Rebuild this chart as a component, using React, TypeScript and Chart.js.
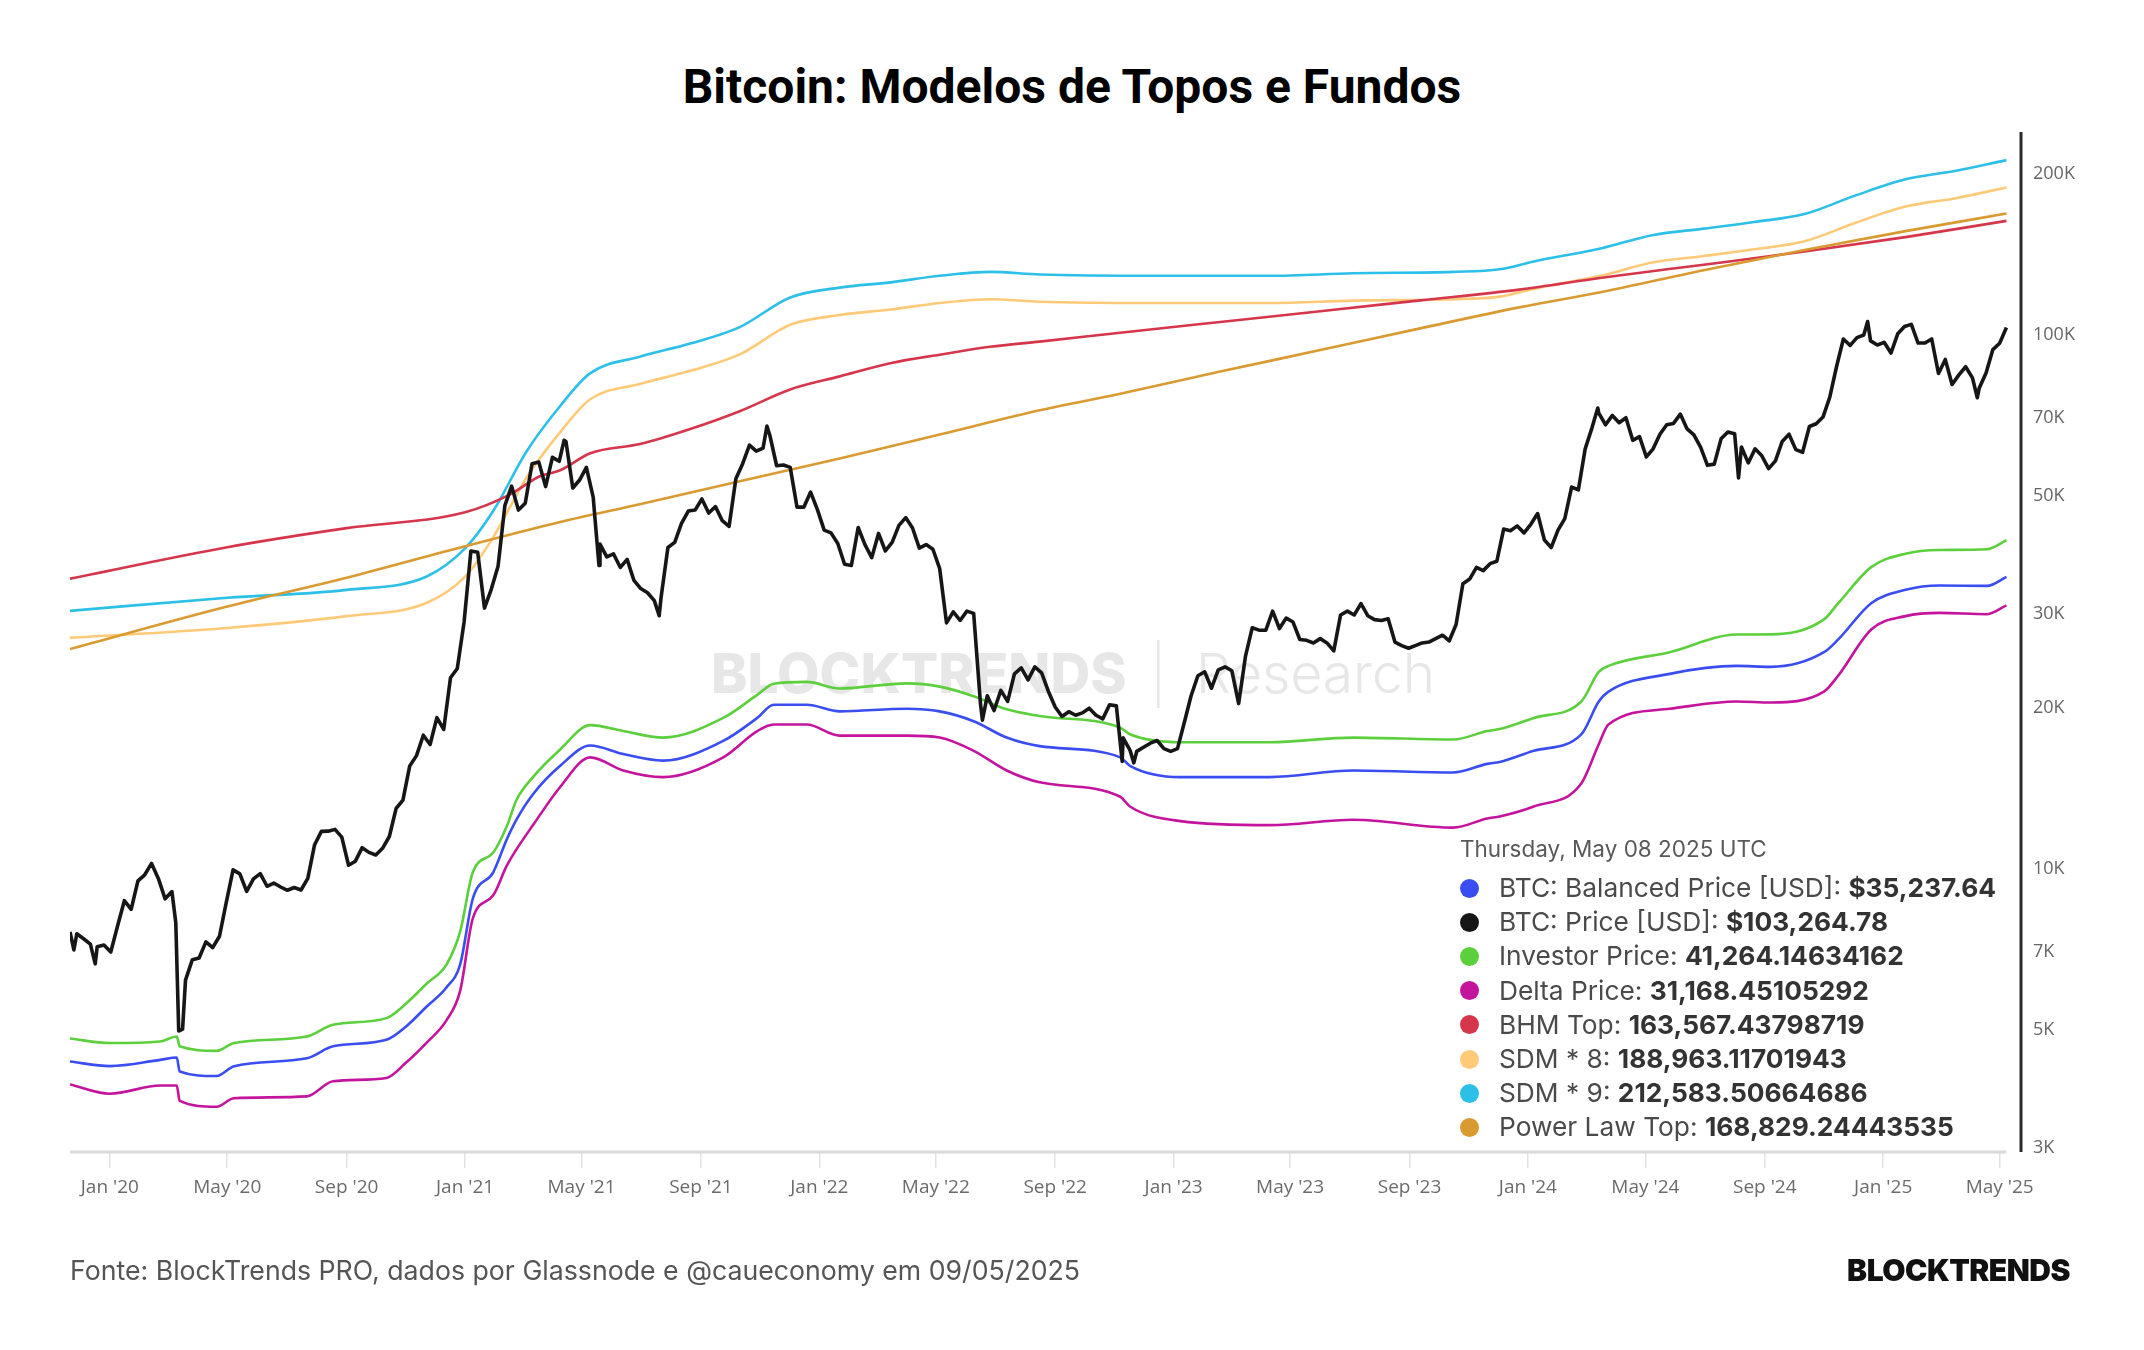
import React, { useEffect, useRef } from "react";
import { Chart, registerables } from "chart.js";

Chart.register(...registerables);

// ---------- axis ranges / ticks ----------
const X_MIN_DATE = "2019-11-21";
const X_MAX_DATE = "2025-05-23";
const LAST_DATE = "2025-05-08";
const Y_MIN = 2950;
const Y_MAX = 240000;

const xTickDates = [
  "2020-01-01", "2020-05-01", "2020-09-01", "2021-01-01", "2021-05-01", "2021-09-01",
  "2022-01-01", "2022-05-01", "2022-09-01", "2023-01-01", "2023-05-01", "2023-09-01",
  "2024-01-01", "2024-05-01", "2024-09-01", "2025-01-01", "2025-05-01",
];
const xTickLabels = [
  "Jan '20", "May '20", "Sep '20", "Jan '21", "May '21", "Sep '21",
  "Jan '22", "May '22", "Sep '22", "Jan '23", "May '23", "Sep '23",
  "Jan '24", "May '24", "Sep '24", "Jan '25", "May '25",
];
const yTickValues = [3000, 5000, 7000, 10000, 20000, 30000, 50000, 70000, 100000, 200000];
const yTickLabels = ["3K", "5K", "7K", "10K", "20K", "30K", "50K", "70K", "100K", "200K"];

// ---------- BTC price ----------
const btcDates = [
  "2019-11-21","2019-11-25","2019-11-28","2019-12-05","2019-12-12","2019-12-17","2019-12-19","2019-12-26",
  "2020-01-02","2020-01-09","2020-01-16","2020-01-23","2020-01-30","2020-02-06","2020-02-13","2020-02-20","2020-02-27",
  "2020-03-05","2020-03-09","2020-03-12","2020-03-16","2020-03-19","2020-03-26","2020-04-02","2020-04-09","2020-04-16",
  "2020-04-23","2020-04-30","2020-05-07","2020-05-14","2020-05-21","2020-05-28","2020-06-04","2020-06-11","2020-06-18",
  "2020-06-25","2020-07-02","2020-07-09","2020-07-16","2020-07-23","2020-07-30","2020-08-06","2020-08-13","2020-08-20",
  "2020-08-27","2020-09-03","2020-09-10","2020-09-17","2020-09-24","2020-10-01","2020-10-08","2020-10-15","2020-10-22",
  "2020-10-29","2020-11-05","2020-11-12","2020-11-19","2020-11-26","2020-12-03","2020-12-10","2020-12-17","2020-12-24",
  "2020-12-31","2021-01-07","2021-01-14","2021-01-21","2021-01-28","2021-02-04","2021-02-11","2021-02-18","2021-02-25",
  "2021-03-04","2021-03-11","2021-03-18","2021-03-25","2021-04-01","2021-04-08","2021-04-13","2021-04-15","2021-04-22",
  "2021-04-29","2021-05-06","2021-05-13","2021-05-19","2021-05-20","2021-05-27","2021-06-03","2021-06-10","2021-06-17",
  "2021-06-24","2021-07-01","2021-07-08","2021-07-15","2021-07-20","2021-07-22","2021-07-29","2021-08-05","2021-08-12",
  "2021-08-19","2021-08-26","2021-09-02","2021-09-09","2021-09-16","2021-09-23","2021-09-30","2021-10-07","2021-10-14",
  "2021-10-21","2021-10-28","2021-11-04","2021-11-08","2021-11-11","2021-11-18","2021-11-25","2021-12-02","2021-12-09",
  "2021-12-16","2021-12-23","2021-12-30","2022-01-06","2022-01-13","2022-01-20","2022-01-27","2022-02-03","2022-02-10",
  "2022-02-17","2022-02-24","2022-03-03","2022-03-10","2022-03-17","2022-03-24","2022-03-31","2022-04-07","2022-04-14",
  "2022-04-21","2022-04-28","2022-05-05","2022-05-12","2022-05-19","2022-05-26","2022-06-02","2022-06-09","2022-06-16",
  "2022-06-18","2022-06-23","2022-06-30","2022-07-07","2022-07-14","2022-07-21","2022-07-28","2022-08-04","2022-08-11",
  "2022-08-18","2022-08-25","2022-09-01","2022-09-08","2022-09-15","2022-09-22","2022-09-29","2022-10-06","2022-10-13",
  "2022-10-20","2022-10-27","2022-11-03","2022-11-09","2022-11-10","2022-11-17","2022-11-21","2022-11-24","2022-12-01",
  "2022-12-08","2022-12-15","2022-12-22","2022-12-29","2023-01-05","2023-01-12","2023-01-19","2023-01-26","2023-02-02",
  "2023-02-09","2023-02-16","2023-02-23","2023-03-02","2023-03-09","2023-03-16","2023-03-23","2023-03-30","2023-04-06",
  "2023-04-13","2023-04-20","2023-04-27","2023-05-04","2023-05-11","2023-05-18","2023-05-25","2023-06-01","2023-06-08",
  "2023-06-15","2023-06-22","2023-06-29","2023-07-06","2023-07-13","2023-07-20","2023-07-27","2023-08-03","2023-08-10",
  "2023-08-17","2023-08-24","2023-08-31","2023-09-07","2023-09-14","2023-09-21","2023-09-28","2023-10-05","2023-10-12",
  "2023-10-19","2023-10-26","2023-11-02","2023-11-09","2023-11-16","2023-11-23","2023-11-30","2023-12-07","2023-12-14",
  "2023-12-21","2023-12-28","2024-01-04","2024-01-11","2024-01-18","2024-01-25","2024-02-01","2024-02-08","2024-02-15",
  "2024-02-22","2024-02-29","2024-03-07","2024-03-13","2024-03-14","2024-03-21","2024-03-28","2024-04-04","2024-04-11",
  "2024-04-18","2024-04-25","2024-05-02","2024-05-09","2024-05-16","2024-05-23","2024-05-30","2024-06-06","2024-06-13",
  "2024-06-20","2024-06-27","2024-07-04","2024-07-11","2024-07-18","2024-07-25","2024-08-01","2024-08-05","2024-08-08",
  "2024-08-15","2024-08-22","2024-08-29","2024-09-05","2024-09-12","2024-09-19","2024-09-26","2024-10-03","2024-10-10",
  "2024-10-17","2024-10-24","2024-10-31","2024-11-07","2024-11-14","2024-11-21","2024-11-28","2024-12-05","2024-12-12",
  "2024-12-16","2024-12-19","2024-12-26","2025-01-02","2025-01-09","2025-01-16","2025-01-23","2025-01-30","2025-02-06",
  "2025-02-13","2025-02-20","2025-02-27","2025-03-06","2025-03-13","2025-03-20","2025-03-27","2025-04-03","2025-04-08",
  "2025-04-10","2025-04-17","2025-04-24","2025-05-01","2025-05-08",
];
const btcPrice = [
  7620,7050,7560,7400,7230,6640,7150,7200,
  6990,7820,8720,8400,9500,9750,10240,9600,8790,
  9070,7930,4970,5010,6190,6760,6810,7300,7120,
  7480,8660,9960,9790,9080,9580,9800,9280,9410,
  9250,9120,9230,9130,9600,11100,11760,11770,11860,
  11470,10160,10340,10960,10740,10620,10930,11500,12980,
  13460,15590,16300,17800,17100,19200,18250,22800,23740,
  29000,39400,39200,30800,33400,36900,47900,52100,47000,
  48400,57400,57800,52000,59000,58000,63500,63100,51700,
  53500,56500,49700,37000,40600,38400,38900,36700,38000,
  34700,33500,32900,31800,29800,32300,40000,40900,44400,
  46800,47000,49300,46400,47700,44900,43800,53800,57400,
  62200,60600,61400,67500,64900,56900,57100,56500,47600,
  47600,50800,47100,43100,42600,40700,37200,37000,43600,
  40500,38300,42500,39400,40900,44000,45500,43500,39900,
  40500,39700,36500,28900,30300,29200,30400,30100,20400,
  19000,21100,19800,21600,20600,23200,23800,22600,23900,
  23300,21500,20100,19300,19700,19400,19600,20000,19400,
  19100,20300,20200,15900,17600,16700,15800,16600,16900,
  17200,17400,16800,16600,16800,18800,21100,23000,23400,
  21800,23600,23900,23500,20400,25000,28300,28000,28000,
  30400,28200,29500,29000,26900,26800,26500,27000,26500,
  25600,29900,30400,29900,31400,29800,29300,29200,29400,
  26600,26200,25900,26200,26500,26600,27000,27400,26750,
  28700,34200,34900,36700,36200,37300,37700,43300,43000,
  43900,42600,44200,46300,41300,40000,43100,45300,51900,
  51300,61200,67000,73000,71400,67900,70700,68500,70000,
  63500,64500,59100,61200,65200,67900,68300,71100,66700,
  65000,61600,57000,57300,63900,65800,65300,54000,61700,
  57600,61200,59400,56200,58100,63200,65200,61000,60300,
  67400,68200,70200,76500,87300,98300,95600,98900,100000,
  106000,97500,95800,96900,92500,100500,103700,104700,96600,
  96600,98300,84700,90000,80800,84200,87200,83100,76300,
  79600,84900,93900,96500,103265,
];

// ---------- Investor Price / Balanced Price / Delta Price ----------
const lowDates = [
  "2019-11-21","2020-01-01","2020-02-22","2020-03-10","2020-03-13","2020-04-20","2020-05-08","2020-07-22",
  "2020-08-18","2020-10-12","2020-11-01","2020-11-22","2020-12-13","2020-12-27","2021-01-09","2021-01-30",
  "2021-02-13","2021-02-23","2021-03-12","2021-04-09","2021-05-10","2021-06-13","2021-07-24","2021-09-24",
  "2021-10-29","2021-11-15","2021-12-19","2022-01-22","2022-04-01","2022-05-05","2022-06-09","2022-07-13",
  "2022-08-16","2022-11-07","2022-11-17","2023-01-08","2023-04-10","2023-07-05","2023-10-16","2023-11-20",
  "2023-12-03","2024-01-07","2024-02-25","2024-03-14","2024-03-24","2024-05-26","2024-08-03","2024-09-07",
  "2024-11-01","2024-11-16","2024-12-20","2025-01-24","2025-02-28","2025-04-18","2025-05-08",
];
const investorPrice = [
  4813,4719,4750,4854,4653,4563,4719,4854,
  5108,5255,5592,6088,6628,7637,9856,10730,
  12020,13460,14860,16740,18590,18120,17620,19180,
  21180,22220,22400,21780,22260,21950,21060,19900,
  19340,18380,17870,17270,17270,17620,17470,18120,
  18280,19180,20590,23390,24000,25460,27480,27500,
  29330,31490,36790,38940,39560,39700,41264,
];
const balancedPrice = [
  4358,4272,4389,4433,4176,4094,4272,4420,
  4653,4786,5065,5513,6001,6628,8800,9856,
  11360,12370,13800,15600,17030,16410,15950,17370,
  19180,20300,20300,19730,19950,19730,18910,17620,
  16980,16180,15600,14860,14860,15290,15160,15730,
  15860,16640,17870,20590,21480,23190,24000,23900,
  25460,26940,31490,33320,33940,33900,35238,
];
const deltaPrice = [
  3947,3793,3929,3929,3677,3585,3720,3750,
  4003,4060,4334,4719,5209,5917,8082,8925,
  10140,10880,12080,14240,16180,15290,14860,16180,
  18120,18640,18640,17770,17770,17620,16640,15290,
  14530,13650,13090,12290,12080,12360,11950,12430,
  12540,13090,14460,17120,18640,19950,20590,20500,
  21480,23060,28110,29750,30170,30000,31168,
];

// ---------- BHM Top ----------
const bhmDates = [
  "2019-11-21","2020-05-01","2020-09-01","2021-01-01","2021-02-16","2021-03-19","2021-04-09","2021-05-10",
  "2021-06-30","2021-08-21","2021-10-11","2021-12-02","2022-01-22","2022-03-15","2022-05-05","2022-06-26",
  "2022-08-16","2022-11-07","2023-02-18","2023-06-01","2023-09-12","2023-12-23","2024-03-17","2024-06-30",
  "2024-10-12","2025-01-24","2025-05-08",
];
const bhmTop = [
  34970,40050,43480,46540,50230,54380,55800,60050,
  62480,66680,72000,79070,83660,88540,91870,95030,
  97200,101000,105800,110800,116100,121600,128000,135400,
  143300,152500,163567,
];

// ---------- SDM * 8 / SDM * 9 ----------
const sdmDates = [
  "2019-11-21","2020-05-01","2020-09-01","2020-11-22","2021-01-01","2021-01-30","2021-03-05","2021-04-09",
  "2021-05-10","2021-06-30","2021-08-21","2021-10-11","2021-12-02","2022-01-22","2022-03-15","2022-05-05",
  "2022-06-26","2022-08-16","2022-12-15","2023-04-10","2023-07-05","2023-10-16","2023-12-03","2024-01-07",
  "2024-03-17","2024-05-08","2024-06-30","2024-08-21","2024-10-12","2024-12-03","2025-01-24","2025-03-17",
  "2025-05-08",
];
const sdm8 = [
  27090,28270,29750,31480,35260,41790,53930,65770,
  75800,80960,85680,91970,104500,109000,111600,114800,
  116700,115400,114800,114800,116000,116700,118000,122000,
  129200,136700,140600,144700,149800,162100,174000,180400,
  188963,
];
const sdm9 = [
  30430,32200,33320,35260,39830,46800,60390,73640,
  84850,91080,96390,103470,117550,122680,125500,129100,
  131300,129800,129100,129100,130500,131300,132750,137300,
  145400,153800,158200,162800,168500,182400,195700,203000,
  212583,
];

// ---------- Power Law Top ----------
const plDates = [
  "2019-11-21","2020-05-01","2020-09-01","2021-01-01","2021-04-09","2021-06-30","2021-10-11","2022-01-22",
  "2022-05-05","2022-08-16","2022-11-07","2023-02-18","2023-06-01","2023-09-12","2023-12-23","2024-03-17",
  "2024-06-30","2024-10-12","2025-01-24","2025-05-08",
];
const powerLawTop = [
  25820,31000,35100,40200,44650,48200,53200,58700,
  65100,72300,77600,85400,93700,102900,112650,120400,
  132200,144300,156500,168829,
];

// ---------- tooltip box (latest values) ----------
const tipHeader = "Thursday, May 08 2025 UTC";
const tipLabels = [
  "BTC: Balanced Price [USD]: ", "BTC: Price [USD]: ", "Investor Price: ", "Delta Price: ",
  "BHM Top: ", "SDM * 8: ", "SDM * 9: ", "Power Law Top: ",
];
const tipValues = [
  "$35,237.64", "$103,264.78", "41,264.14634162", "31,168.45105292",
  "163,567.43798719", "188,963.11701943", "212,583.50664686", "168,829.24443535",
];
const seriesColors = ["#3a4df0", "#161616", "#5ccf3c", "#c4139c", "#d6364c", "#ffca78", "#2cbfe8", "#d99a30"];

function dayNum(s: string): number {
  const [y, m, d] = s.split("-").map(Number);
  return (Date.UTC(y, m - 1, d) - Date.UTC(2020, 0, 1)) / 86400000;
}

const decoPlugin = {
  id: "deco",
  beforeDatasetsDraw(chart: any) {
    const { ctx } = chart;
    ctx.save();
    ctx.fillStyle = "#e7e7e7";
    ctx.textBaseline = "middle";
    ctx.textAlign = "left";
    ctx.font = "800 55px Inter";
    ctx.fillText("BLOCKTRENDS", 711, 676);
    ctx.fillRect(1157, 640, 2.5, 68);
    ctx.font = "300 55px Inter";
    ctx.fillText("Research", 1196, 676);
    ctx.restore();
  },
  afterDraw(chart: any) {
    const { ctx, chartArea, scales } = chart;
    const xEnd = scales.x.getPixelForValue(dayNum(LAST_DATE));
    ctx.save();
    ctx.strokeStyle = "#dadada";
    ctx.lineWidth = 3;
    ctx.beginPath();
    ctx.moveTo(chartArea.left, chartArea.bottom);
    ctx.lineTo(xEnd, chartArea.bottom);
    ctx.stroke();
    ctx.strokeStyle = "#2a2a2a";
    ctx.lineWidth = 3;
    ctx.beginPath();
    ctx.moveTo(chartArea.right, chartArea.top);
    ctx.lineTo(chartArea.right, chartArea.bottom);
    ctx.stroke();
    ctx.restore();
  },
};

export default function App() {
  const ref = useRef<HTMLCanvasElement>(null);

  useEffect(() => {
    const canvas = ref.current;
    if (!canvas) return;
    const toPts = (ds: string[], vs: number[]) => ds.map((d, i) => ({ x: dayNum(d), y: vs[i] }));
    const mk = (label: string, ds: string[], vs: number[], color: string, width: number, order: number, smooth: boolean) => ({
      label,
      data: toPts(ds, vs),
      borderColor: color,
      backgroundColor: color,
      borderWidth: width,
      pointRadius: 0,
      tension: smooth ? 0.4 : 0,
      cubicInterpolationMode: smooth ? ("monotone" as const) : ("default" as const),
      fill: false,
      order,
      borderJoinStyle: "round" as const,
    });
    const chart = new Chart(canvas, {
      type: "line",
      data: {
        datasets: [
          mk("BTC: Price [USD]", btcDates, btcPrice, seriesColors[1], 3.6, 0, false),
          mk("BTC: Balanced Price [USD]", lowDates, balancedPrice, seriesColors[0], 2.6, 2, true),
          mk("Investor Price", lowDates, investorPrice, seriesColors[2], 2.6, 1, true),
          mk("Delta Price", lowDates, deltaPrice, seriesColors[3], 2.6, 3, true),
          mk("BHM Top", bhmDates, bhmTop, seriesColors[4], 2.6, 5, true),
          mk("SDM * 8", sdmDates, sdm8, seriesColors[5], 2.6, 6, true),
          mk("SDM * 9", sdmDates, sdm9, seriesColors[6], 2.6, 7, true),
          mk("Power Law Top", plDates, powerLawTop, seriesColors[7], 2.6, 4, true),
        ],
      },
      options: {
        animation: false,
        responsive: false,
        maintainAspectRatio: false,
        parsing: false,
        layout: { padding: { left: 70, top: 132, right: 43, bottom: 148 } },
        plugins: {
          legend: { display: false },
          tooltip: { enabled: false },
          title: { display: false },
        },
        scales: {
          x: {
            type: "linear",
            min: dayNum(X_MIN_DATE),
            max: dayNum(X_MAX_DATE),
            afterBuildTicks: (s: any) => {
              s.ticks = xTickDates.map((d) => ({ value: dayNum(d) }));
            },
            afterFit: (s: any) => {
              s.height = 50;
            },
            ticks: {
              autoSkip: false,
              maxRotation: 0,
              minRotation: 0,
              padding: 8,
              color: "#6b6b6b",
              font: { family: '"Liberation Sans Narrow", "Open Sans", sans-serif', size: 19 },
              callback: (v: any) => {
                const i = xTickDates.findIndex((d) => dayNum(d) === v);
                return i >= 0 ? xTickLabels[i] : "";
              },
            },
            grid: { drawOnChartArea: false, drawTicks: true, tickLength: 16, color: "#e3e3e3", lineWidth: 1.5 },
            border: { display: false },
          },
          y: {
            type: "logarithmic",
            position: "right",
            min: Y_MIN,
            max: Y_MAX,
            afterBuildTicks: (s: any) => {
              s.ticks = yTickValues.map((v) => ({ value: v }));
            },
            afterFit: (s: any) => {
              s.width = 80;
            },
            ticks: {
              padding: 4,
              color: "#666666",
              font: { family: '"Open Sans", sans-serif', size: 18 },
              callback: (v: any) => {
                const i = yTickValues.indexOf(v);
                return i >= 0 ? yTickLabels[i] : "";
              },
            },
            grid: { display: false },
            border: { display: false },
          },
        },
      } as any,
      plugins: [decoPlugin],
    });
    return () => chart.destroy();
  }, []);

  return (
    <div
      style={{
        position: "fixed",
        left: 0,
        top: 0,
        width: 2144,
        height: 1350,
        background: "#ffffff",
        overflow: "hidden",
        fontFamily: "Inter, sans-serif",
      }}
    >
      <div
        style={{
          position: "absolute",
          left: 0,
          top: 60,
          width: 2144,
          height: 54,
          lineHeight: "54px",
          textAlign: "center",
          fontFamily: "Roboto, sans-serif",
          fontWeight: 700,
          fontSize: 48,
          color: "#000",
        }}
      >
        Bitcoin: Modelos de Topos e Fundos
      </div>
      <canvas ref={ref} width={2144} height={1350} style={{ position: "absolute", left: 0, top: 0 }} />
      <div style={{ position: "absolute", left: 1460, top: 835, fontSize: 22.5, lineHeight: "28px", color: "#595959", whiteSpace: "nowrap" }}>
        {tipHeader}
      </div>
      {tipLabels.map((lab, i) => (
        <div key={lab} style={{ position: "absolute", left: 1460, top: 888 + 34.2 * i - 16, height: 32, lineHeight: "32px", whiteSpace: "nowrap" }}>
          <span
            style={{
              position: "absolute",
              left: 0,
              top: 6.5,
              width: 19,
              height: 19,
              borderRadius: "50%",
              background: seriesColors[i],
            }}
          />
          <span style={{ position: "absolute", left: 39, top: 0, fontSize: 26.3, color: "#4a4a4a" }}>
            {lab}
            <b style={{ color: "#333" }}>{tipValues[i]}</b>
          </span>
        </div>
      ))}
      <div style={{ position: "absolute", left: 70, top: 1254, height: 32, lineHeight: "32px", fontSize: 26.7, color: "#555", whiteSpace: "nowrap" }}>
        Fonte: BlockTrends PRO, dados por Glassnode e @caueconomy em 09/05/2025
      </div>
      <div
        style={{
          position: "absolute",
          right: 74,
          top: 1253,
          height: 34,
          lineHeight: "34px",
          fontSize: 30,
          fontWeight: 900,
          letterSpacing: -0.5,
          color: "#111",
        }}
      >
        BLOCKTRENDS
      </div>
    </div>
  );
}
